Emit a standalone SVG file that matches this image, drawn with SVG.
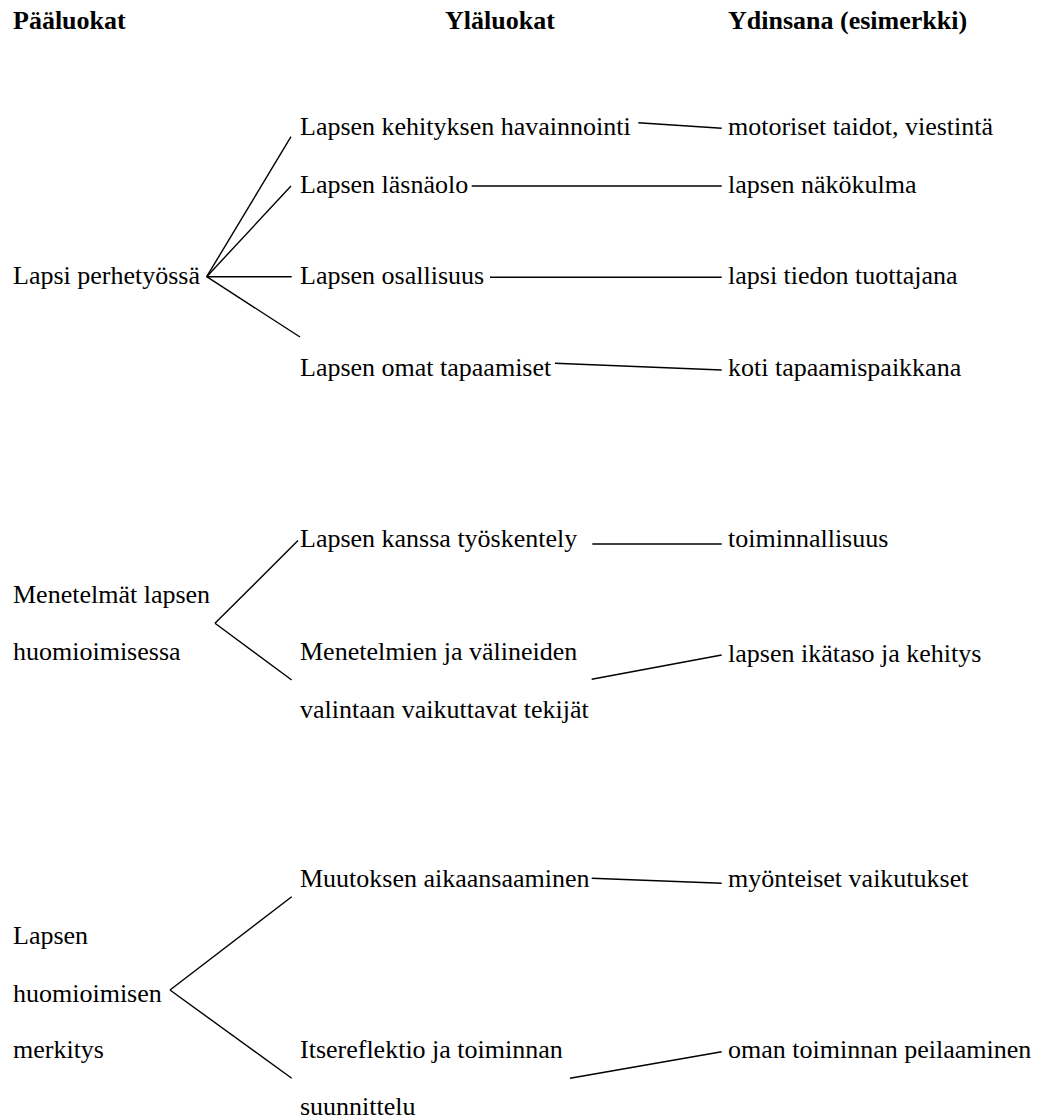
<svg xmlns="http://www.w3.org/2000/svg" width="1053" height="1119" viewBox="0 0 1053 1119">
<style>
text{font-family:'Liberation Serif', Tinos, 'Times New Roman', Times, 'DejaVu Serif', serif;font-size:26px;fill:#000}
.h{font-weight:bold}
.c line{stroke:#000;stroke-width:1.4;stroke-linecap:butt}
</style>
<rect width="1053" height="1119" fill="#fff"/>
<g id="headers">
<text class="h" x="13" y="29">Pääluokat</text>
<text class="h" x="445" y="29">Yläluokat</text>
<text class="h" x="728" y="29">Ydinsana (esimerkki)</text>
</g>
<g id="n-lapsi-perhetyossa"><text x="13" y="284">Lapsi perhetyössä</text></g>
<g id="n-kehityksen-havainnointi"><text x="300" y="135">Lapsen kehityksen havainnointi</text></g>
<g id="n-lasnaolo"><text x="300" y="192.7">Lapsen läsnäolo</text></g>
<g id="n-osallisuus"><text x="300" y="284">Lapsen osallisuus</text></g>
<g id="n-omat-tapaamiset"><text x="300" y="376">Lapsen omat tapaamiset</text></g>
<g id="n-motoriset"><text x="728" y="135">motoriset taidot, viestintä</text></g>
<g id="n-nakokulma"><text x="728" y="192.7">lapsen näkökulma</text></g>
<g id="n-tiedon-tuottajana"><text x="728" y="284">lapsi tiedon tuottajana</text></g>
<g id="n-koti"><text x="728" y="376">koti tapaamispaikkana</text></g>
<g id="n-menetelmat"><text x="13" y="602.7">Menetelmät lapsen</text><text x="13" y="660">huomioimisessa</text></g>
<g id="n-kanssa-tyoskentely"><text x="300" y="546.7">Lapsen kanssa työskentely</text></g>
<g id="n-valineiden-valinta"><text x="300" y="660">Menetelmien ja välineiden</text><text x="300" y="718.3">valintaan vaikuttavat tekijät</text></g>
<g id="n-toiminnallisuus"><text x="728" y="546.7">toiminnallisuus</text></g>
<g id="n-ikataso"><text x="728" y="661.7">lapsen ikätaso ja kehitys</text></g>
<g id="n-merkitys"><text x="13" y="944">Lapsen</text><text x="13" y="1001.7">huomioimisen</text><text x="13" y="1058.3">merkitys</text></g>
<g id="n-muutoksen"><text x="300" y="886.7">Muutoksen aikaansaaminen</text></g>
<g id="n-itsereflektio"><text x="300" y="1058.3">Itsereflektio ja toiminnan</text><text x="300" y="1115">suunnittelu</text></g>
<g id="n-myonteiset"><text x="728" y="886.7">myönteiset vaikutukset</text></g>
<g id="n-peilaaminen"><text x="728" y="1058.3">oman toiminnan peilaaminen</text></g>
<g id="connectors" class="c">
<line x1="206.7" y1="276.7" x2="291" y2="136.7"/>
<line x1="206.7" y1="276.7" x2="291" y2="186"/>
<line x1="206.7" y1="276.7" x2="291.7" y2="276.7"/>
<line x1="206.7" y1="276.7" x2="300" y2="337"/>
<line x1="638.3" y1="122.7" x2="721.7" y2="128.3"/>
<line x1="471.7" y1="186" x2="721.7" y2="186"/>
<line x1="490" y1="277.3" x2="721.7" y2="277.3"/>
<line x1="555" y1="363.3" x2="721.7" y2="370"/>
<line x1="215" y1="623.3" x2="298" y2="540.5"/>
<line x1="215" y1="623.3" x2="291.7" y2="680"/>
<line x1="592.3" y1="544" x2="721.7" y2="544"/>
<line x1="591.7" y1="679.3" x2="721.7" y2="655"/>
<line x1="170" y1="990" x2="291.7" y2="896.7"/>
<line x1="170" y1="990" x2="291.7" y2="1078.3"/>
<line x1="591.7" y1="878.3" x2="721.7" y2="883.3"/>
<line x1="570" y1="1078.3" x2="721.7" y2="1051.7"/>
</g>
</svg>
